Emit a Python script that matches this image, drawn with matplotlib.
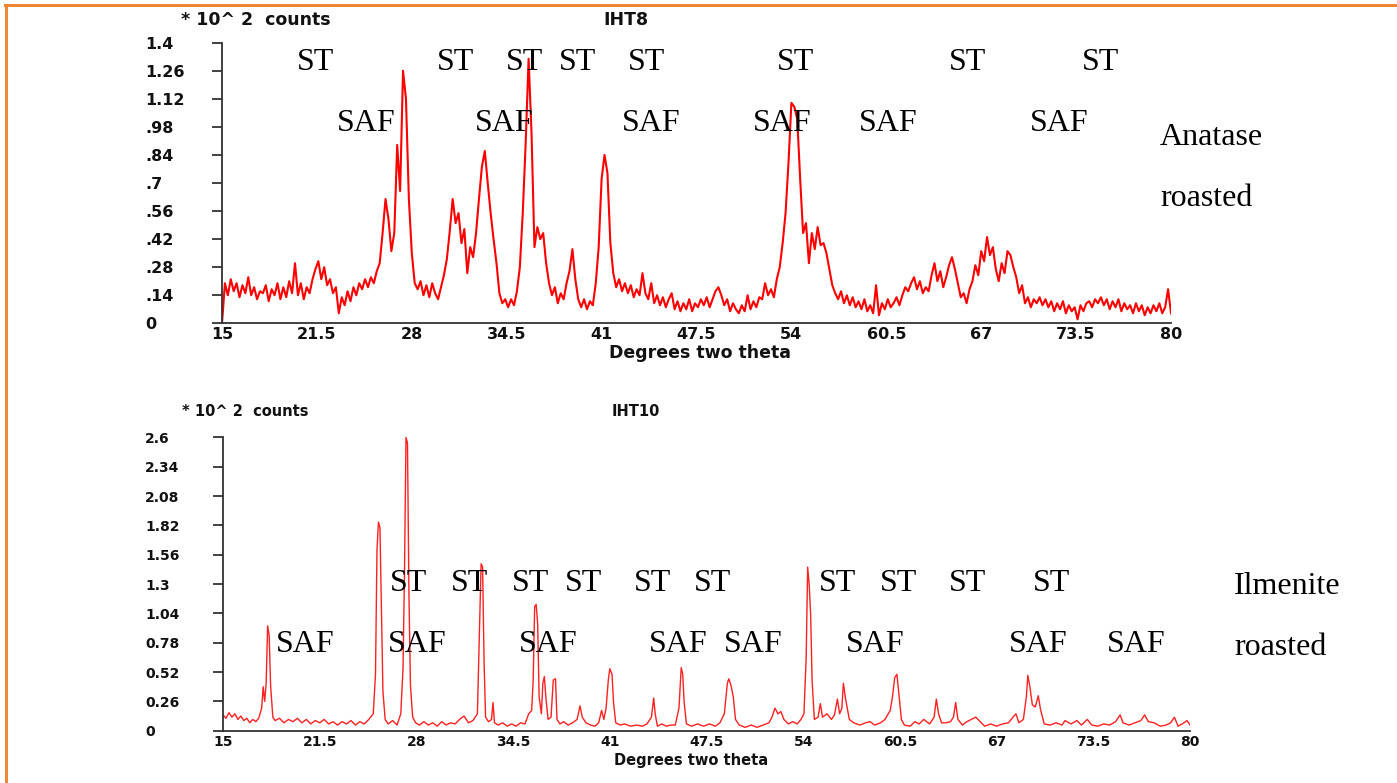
import numpy as np
import matplotlib.pyplot as plt
from matplotlib.lines import Line2D

# anatase roasted (IHT8): counts (x100) on a 0.2 deg 2-theta grid from 15 deg
anatase_start = 15.0
anatase_step = 0.2
anatase_counts = [
    0.0, 0.2, 0.14, 0.22, 0.16,     # 15
    0.2, 0.13, 0.19, 0.15, 0.23,    # 16
    0.14, 0.18, 0.12, 0.16, 0.15,   # 17
    0.19, 0.11, 0.17, 0.14, 0.2,    # 18
    0.12, 0.18, 0.13, 0.21, 0.15,   # 19
    0.3, 0.14, 0.2, 0.12, 0.18,     # 20
    0.15, 0.22, 0.27, 0.31, 0.22,   # 21
    0.28, 0.19, 0.22, 0.15, 0.18,   # 22
    0.05, 0.13, 0.09, 0.16, 0.11,   # 23
    0.18, 0.14, 0.2, 0.17, 0.22,    # 24
    0.18, 0.23, 0.2, 0.26, 0.3,     # 25
    0.45, 0.62, 0.52, 0.36, 0.45,   # 26
    0.89, 0.66, 1.26, 1.12, 0.62,   # 27
    0.35, 0.2, 0.17, 0.21, 0.14,    # 28
    0.19, 0.13, 0.2, 0.15, 0.12,    # 29
    0.18, 0.24, 0.32, 0.46, 0.62,   # 30
    0.5, 0.55, 0.4, 0.47, 0.25,     # 31
    0.38, 0.33, 0.45, 0.62, 0.78,   # 32
    0.86, 0.7, 0.55, 0.42, 0.3,     # 33
    0.15, 0.1, 0.12, 0.08, 0.12,    # 34
    0.09, 0.16, 0.28, 0.55, 0.9,    # 35
    1.32, 0.95, 0.38, 0.48, 0.42,   # 36
    0.45, 0.3, 0.2, 0.14, 0.18,     # 37
    0.1, 0.15, 0.12, 0.2, 0.26,     # 38
    0.37, 0.22, 0.12, 0.08, 0.12,   # 39
    0.07, 0.11, 0.09, 0.2, 0.38,    # 40
    0.72, 0.84, 0.75, 0.4, 0.25,    # 41
    0.18, 0.22, 0.16, 0.2, 0.15,    # 42
    0.19, 0.13, 0.17, 0.14, 0.25,   # 43
    0.15, 0.12, 0.2, 0.1, 0.14,     # 44
    0.09, 0.13, 0.08, 0.12, 0.15,   # 45
    0.07, 0.11, 0.06, 0.1, 0.07,    # 46
    0.12, 0.06, 0.1, 0.08, 0.12,    # 47
    0.09, 0.13, 0.08, 0.12, 0.16,   # 48
    0.18, 0.14, 0.09, 0.12, 0.06,   # 49
    0.1, 0.07, 0.05, 0.09, 0.06,    # 50
    0.14, 0.07, 0.11, 0.08, 0.13,   # 51
    0.12, 0.2, 0.14, 0.17, 0.13,    # 52
    0.22, 0.28, 0.4, 0.55, 0.8,     # 53
    1.1, 1.08, 1.02, 0.72, 0.45,    # 54
    0.5, 0.3, 0.45, 0.37, 0.48,     # 55
    0.39, 0.4, 0.35, 0.27, 0.19,    # 56
    0.15, 0.12, 0.16, 0.1, 0.14,    # 57
    0.09, 0.13, 0.08, 0.11, 0.07,   # 58
    0.12, 0.06, 0.09, 0.05, 0.19,   # 59
    0.04, 0.1, 0.07, 0.12, 0.08,    # 60
    0.1, 0.13, 0.09, 0.14, 0.18,    # 61
    0.16, 0.2, 0.23, 0.17, 0.21,    # 62
    0.15, 0.18, 0.16, 0.24, 0.3,    # 63
    0.21, 0.26, 0.18, 0.23, 0.29,   # 64
    0.33, 0.27, 0.2, 0.13, 0.15,    # 65
    0.1, 0.17, 0.21, 0.29, 0.24,    # 66
    0.36, 0.31, 0.43, 0.34, 0.38,   # 67
    0.27, 0.21, 0.3, 0.25, 0.36,    # 68
    0.34, 0.28, 0.23, 0.15, 0.19,   # 69
    0.1, 0.13, 0.08, 0.12, 0.1,     # 70
    0.13, 0.09, 0.12, 0.08, 0.11,   # 71
    0.06, 0.1, 0.07, 0.11, 0.05,    # 72
    0.09, 0.06, 0.08, 0.02, 0.09,   # 73
    0.06, 0.1, 0.11, 0.08, 0.12,    # 74
    0.1, 0.13, 0.09, 0.12, 0.07,    # 75
    0.11, 0.08, 0.12, 0.06, 0.1,    # 76
    0.07, 0.09, 0.05, 0.1, 0.06,    # 77
    0.09, 0.04, 0.08, 0.05, 0.09,   # 78
    0.06, 0.1, 0.05, 0.08, 0.17,    # 79
    0.05,                           # 80
]

# ilmenite roasted (IHT10): (2-theta, counts x100)
ilmenite_scan = [
    (15.0, 0.14), (15.2, 0.11), (15.4, 0.16), (15.6, 0.12), (15.8, 0.15),
    (16.0, 0.1), (16.2, 0.13), (16.4, 0.09), (16.6, 0.11), (16.8, 0.07),
    (17.0, 0.1), (17.2, 0.08), (17.4, 0.11), (17.6, 0.2), (17.7, 0.39),
    (17.8, 0.26), (17.9, 0.42), (18.0, 0.93), (18.1, 0.85), (18.2, 0.4),
    (18.35, 0.12), (18.5, 0.09), (18.8, 0.11), (19.1, 0.07), (19.4, 0.1),
    (19.7, 0.08), (20.0, 0.11), (20.3, 0.07), (20.6, 0.1), (20.9, 0.06),
    (21.2, 0.09), (21.5, 0.07), (21.8, 0.1), (22.1, 0.06), (22.4, 0.08),
    (22.7, 0.05), (23.0, 0.08), (23.3, 0.06), (23.6, 0.09), (23.9, 0.05),
    (24.2, 0.08), (24.5, 0.06), (24.8, 0.1), (25.1, 0.15), (25.25, 0.5),
    (25.35, 1.6), (25.45, 1.85), (25.55, 1.8), (25.65, 1.1), (25.75, 0.35),
    (25.9, 0.1), (26.1, 0.06), (26.4, 0.09), (26.7, 0.05), (26.95, 0.15),
    (27.1, 0.55), (27.2, 1.4), (27.3, 2.6), (27.4, 2.55), (27.5, 1.2),
    (27.6, 0.4), (27.75, 0.12), (27.95, 0.07), (28.2, 0.05), (28.5, 0.08),
    (28.8, 0.05), (29.1, 0.07), (29.4, 0.04), (29.7, 0.08), (30.0, 0.05),
    (30.3, 0.07), (30.6, 0.06), (30.9, 0.1), (31.2, 0.13), (31.5, 0.07),
    (31.8, 0.09), (32.1, 0.15), (32.25, 0.95), (32.35, 1.48), (32.45, 1.45),
    (32.55, 0.6), (32.65, 0.12), (32.85, 0.08), (33.05, 0.1), (33.15, 0.25),
    (33.25, 0.07), (33.5, 0.05), (33.8, 0.07), (34.1, 0.04), (34.4, 0.06),
    (34.7, 0.04), (35.0, 0.07), (35.3, 0.06), (35.55, 0.15), (35.75, 0.18),
    (35.85, 0.45), (35.95, 1.1), (36.05, 1.12), (36.15, 0.95), (36.25, 0.3),
    (36.4, 0.15), (36.5, 0.42), (36.6, 0.48), (36.7, 0.3), (36.85, 0.1),
    (37.05, 0.12), (37.2, 0.45), (37.35, 0.46), (37.45, 0.1), (37.65, 0.06),
    (37.9, 0.08), (38.2, 0.05), (38.5, 0.07), (38.8, 0.1), (39.0, 0.22),
    (39.15, 0.12), (39.4, 0.07), (39.7, 0.05), (40.0, 0.04), (40.25, 0.07),
    (40.45, 0.18), (40.6, 0.1), (40.75, 0.2), (40.9, 0.45), (41.0, 0.55),
    (41.15, 0.5), (41.25, 0.25), (41.4, 0.07), (41.7, 0.05), (42.0, 0.06),
    (42.4, 0.04), (42.8, 0.05), (43.2, 0.04), (43.5, 0.06), (43.8, 0.12),
    (43.95, 0.29), (44.05, 0.15), (44.2, 0.04), (44.5, 0.06), (44.8, 0.04),
    (45.1, 0.05), (45.4, 0.05), (45.65, 0.2), (45.8, 0.56), (45.9, 0.5),
    (46.0, 0.25), (46.15, 0.06), (46.5, 0.04), (46.9, 0.06), (47.3, 0.04),
    (47.7, 0.06), (48.1, 0.04), (48.4, 0.07), (48.7, 0.15), (48.9, 0.42),
    (49.0, 0.46), (49.15, 0.4), (49.3, 0.3), (49.45, 0.1), (49.7, 0.05),
    (50.1, 0.03), (50.5, 0.05), (50.9, 0.03), (51.3, 0.05), (51.7, 0.07),
    (51.9, 0.12), (52.1, 0.2), (52.3, 0.15), (52.5, 0.17), (52.7, 0.1),
    (53.0, 0.06), (53.3, 0.08), (53.6, 0.06), (53.85, 0.1), (54.05, 0.15),
    (54.2, 0.65), (54.3, 1.45), (54.4, 1.3), (54.5, 1.03), (54.6, 0.44),
    (54.75, 0.1), (55.0, 0.12), (55.15, 0.24), (55.3, 0.12), (55.6, 0.15),
    (55.9, 0.1), (56.1, 0.14), (56.3, 0.28), (56.45, 0.15), (56.6, 0.2),
    (56.7, 0.42), (56.85, 0.28), (57.1, 0.1), (57.4, 0.07), (57.8, 0.05),
    (58.2, 0.07), (58.5, 0.08), (58.8, 0.05), (59.2, 0.07), (59.5, 0.1),
    (59.85, 0.18), (60.0, 0.3), (60.15, 0.47), (60.3, 0.5), (60.45, 0.3),
    (60.6, 0.1), (60.8, 0.05), (61.2, 0.04), (61.5, 0.08), (61.8, 0.06),
    (62.1, 0.1), (62.5, 0.06), (62.8, 0.12), (62.95, 0.28), (63.1, 0.15),
    (63.3, 0.07), (63.6, 0.07), (63.9, 0.08), (64.1, 0.12), (64.25, 0.25),
    (64.4, 0.1), (64.7, 0.05), (65.0, 0.08), (65.3, 0.1), (65.6, 0.12),
    (65.9, 0.08), (66.2, 0.04), (66.6, 0.06), (67.0, 0.04), (67.4, 0.06),
    (67.8, 0.07), (68.1, 0.12), (68.3, 0.15), (68.5, 0.07), (68.8, 0.1),
    (69.0, 0.3), (69.1, 0.49), (69.25, 0.38), (69.4, 0.23), (69.6, 0.21),
    (69.8, 0.31), (69.95, 0.19), (70.2, 0.06), (70.6, 0.05), (71.0, 0.07),
    (71.4, 0.05), (71.6, 0.09), (72.0, 0.06), (72.4, 0.09), (72.7, 0.05),
    (73.1, 0.1), (73.4, 0.05), (73.8, 0.04), (74.2, 0.06), (74.6, 0.05),
    (75.0, 0.08), (75.3, 0.14), (75.5, 0.07), (75.9, 0.05), (76.3, 0.07),
    (76.7, 0.09), (76.95, 0.14), (77.2, 0.08), (77.6, 0.07), (78.0, 0.04),
    (78.4, 0.05), (78.7, 0.07), (78.95, 0.12), (79.2, 0.04), (79.6, 0.07),
    (79.8, 0.09), (80.0, 0.05),
]

# phase markers (2-theta of label centre)
anatase_st = [21.38, 30.98, 35.74, 39.32, 44.05, 54.29, 66.05, 75.2]
anatase_saf = [24.87, 34.33, 44.41, 53.36, 60.66, 72.32]
ilmenite_st = [27.49, 31.57, 35.66, 39.2, 43.87, 47.93, 56.31, 60.42, 65.05, 70.71]
ilmenite_saf = [20.53, 28.04, 36.83, 45.61, 50.63, 58.85, 69.77, 76.39]

x_ticks = [15, 21.5, 28, 34.5, 41, 47.5, 54, 60.5, 67, 73.5, 80]
anatase_yticks = [0, 0.14, 0.28, 0.42, 0.56, 0.7, 0.84, 0.98, 1.12, 1.26, 1.4]
anatase_ylabels = ['0', '.14', '.28', '.42', '.56', '.7', '.84', '.98', '1.12', '1.26', '1.4']
ilmenite_yticks = [0, 0.26, 0.52, 0.78, 1.04, 1.3, 1.56, 1.82, 2.08, 2.34, 2.6]
ilmenite_ylabels = ['0', '0.26', '0.52', '0.78', '1.04', '1.3', '1.56', '1.82', '2.08', '2.34', '2.6']

W, H = 1397, 783
fig = plt.figure(figsize=(W / 100, H / 100), dpi=100)
fig.patch.set_facecolor('white')

def px(x, y):
    return x / W, 1 - y / H

ax1 = fig.add_axes([222 / W, 1 - 323.3 / H, 949 / W, 280.6 / H])
ax2 = fig.add_axes([223 / W, 1 - 730.7 / H, 967 / W, 293.3 / H])

x1 = anatase_start + anatase_step * np.arange(len(anatase_counts))
y1 = np.array(anatase_counts)
x2, y2 = np.array(ilmenite_scan).T


def style_axis(ax, yticks, ylabels, fs, pad_pt):
    ax.set_xlim(15, 80)
    ax.set_ylim(0, yticks[-1])
    ax.set_xticks(x_ticks)
    ax.set_xticklabels([('%g' % t) for t in x_ticks])
    ax.set_yticks(yticks)
    ax.set_yticklabels(ylabels)
    for s in ['top', 'right']:
        ax.spines[s].set_visible(False)
    for s in ['left', 'bottom']:
        ax.spines[s].set_color('#333333')
        ax.spines[s].set_linewidth(1.3)
    ax.tick_params(axis='y', length=7, width=1.3, color='#333333', pad=pad_pt)
    ax.tick_params(axis='x', length=0, pad=3)
    for lab in ax.get_yticklabels() + ax.get_xticklabels():
        lab.set_fontsize(fs)
        lab.set_fontweight('bold')
        lab.set_color('#111111')
    for lab in ax.get_yticklabels():
        lab.set_horizontalalignment('left')


ax1.plot(x1, y1, color='#ff0000', lw=1.5)
style_axis(ax1, anatase_yticks, anatase_ylabels, 11.5, 48)
ax2.plot(x2, y2, color='#ff2020', lw=1.0)
style_axis(ax2, ilmenite_yticks, ilmenite_ylabels, 10, 49)

serif = dict(family='Liberation Serif', fontsize=23, color='black')
for x in anatase_st:
    ax1.text(x, 1.264, 'ST', ha='center', va='baseline', clip_on=False, **serif)
for x in anatase_saf:
    ax1.text(x, 0.957, 'SAF', ha='center', va='baseline', clip_on=False, **serif)
ax1.text(79.24, 0.889, 'Anatase', ha='left', va='baseline', clip_on=False, **serif)
ax1.text(79.24, 0.584, 'roasted', ha='left', va='baseline', clip_on=False, **serif)

for x in ilmenite_st:
    ax2.text(x, 1.242, 'ST', ha='center', va='baseline', clip_on=False, **serif)
for x in ilmenite_saf:
    ax2.text(x, 0.701, 'SAF', ha='center', va='baseline', clip_on=False, **serif)
ax2.text(82.95, 1.216, 'Ilmenite', ha='left', va='baseline', clip_on=False, **serif)
ax2.text(82.95, 0.674, 'roasted', ha='left', va='baseline', clip_on=False, **serif)

# instrument headers and axis titles
hdr = dict(fontweight='bold', color='#111111', va='center')
fig.text(*px(181, 20), '* 10^ 2  counts', ha='left', fontsize=12.5, **hdr)
fig.text(*px(626, 20), 'IHT8', ha='center', fontsize=12.5, **hdr)
fig.text(*px(700, 353), 'Degrees two theta', ha='center', fontsize=12.5, **hdr)
fig.text(*px(182, 411), '* 10^ 2  counts', ha='left', fontsize=10.5, **hdr)
fig.text(*px(636, 411), 'IHT10', ha='center', fontsize=10.5, **hdr)
fig.text(*px(691, 760), 'Degrees two theta', ha='center', fontsize=10.5, **hdr)

# orange page frame
frame = '#ef8535'
fig.add_artist(Line2D([5 / W, 1], [1 - 5 / H, 1 - 5 / H], color=frame, lw=2.2))
fig.add_artist(Line2D([5.5 / W, 5.5 / W], [0, 1 - 5 / H], color=frame, lw=2.2))

fig.savefig('out.png', dpi=100)
